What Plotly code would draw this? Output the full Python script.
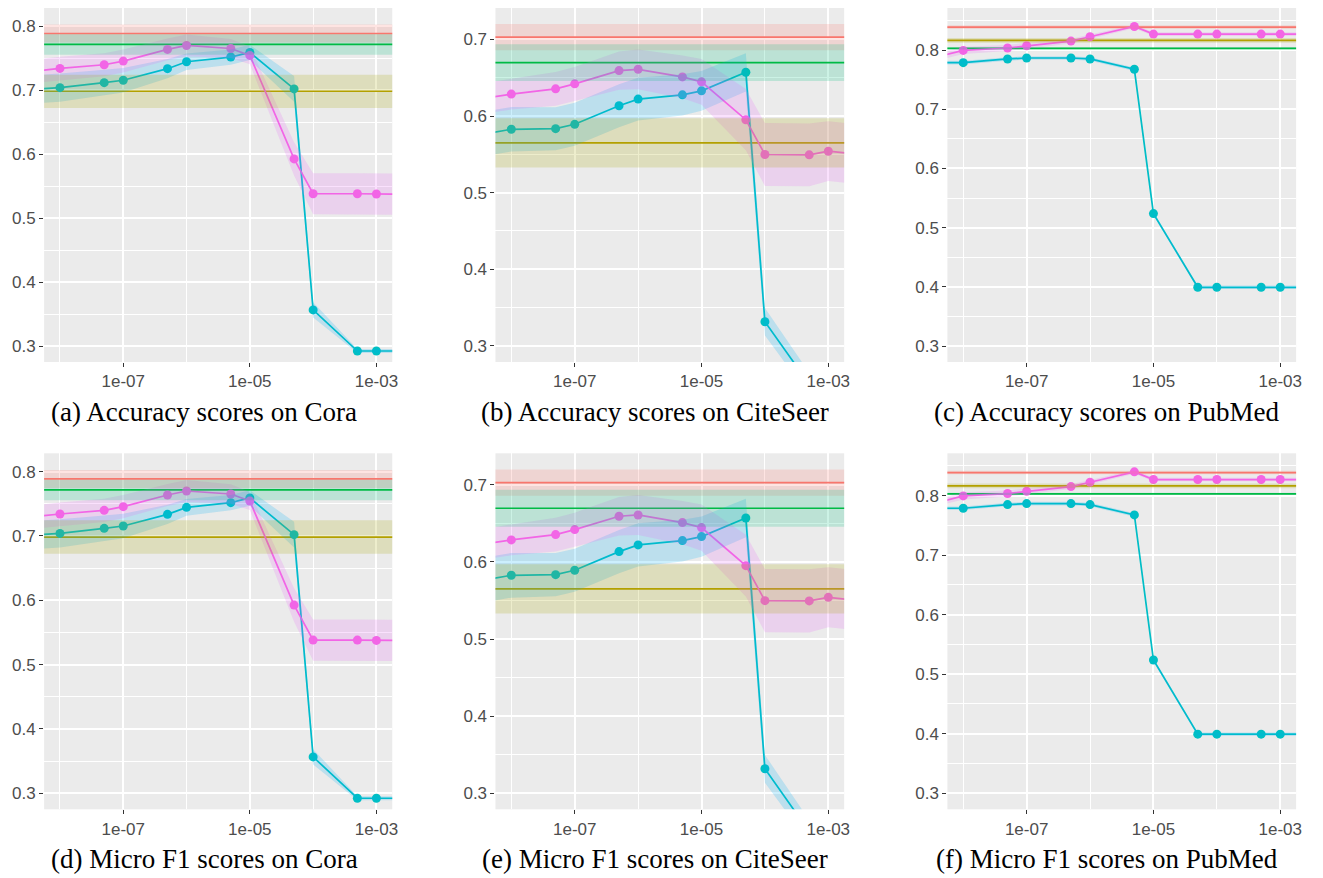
import plotly.graph_objects as go

# ---------------- data ----------------
# x grid (first and last points lie just outside the visible x window)
x_values = [1e-9, 1e-8, 5e-8, 1e-7, 5e-7, 1e-6, 5e-6, 1e-5, 5e-5, 1e-4, 5e-4, 1e-3, 1e-2]

x_tick_vals = [1e-7, 1e-5, 1e-3]
x_tick_text = ["1e-07", "1e-05", "1e-03"]
x_minor_vals = [1e-8, 1e-6, 1e-4]
y_tick_vals = [0.3, 0.4, 0.5, 0.6, 0.7, 0.8]
y_tick_text = ["0.3", "0.4", "0.5", "0.6", "0.7", "0.8"]
y_minor_vals = [0.35, 0.45, 0.55, 0.65, 0.75, 0.85]

# Cora
cora_pink = [0.7237, 0.7341, 0.7398, 0.7455, 0.7637, 0.7699, 0.7652, 0.7544, 0.5925, 0.5381, 0.5381, 0.5376, 0.5370]
cora_pink_sd = [0.018, 0.018, 0.018, 0.018, 0.017, 0.017, 0.015, 0.014, 0.026, 0.032, 0.032, 0.032, 0.032]
cora_teal = [0.698, 0.704, 0.7118, 0.7155, 0.7336, 0.7445, 0.7518, 0.759, 0.702, 0.3565, 0.2922, 0.2922, 0.2922]
cora_teal_sd = [0.022, 0.022, 0.02, 0.019, 0.015, 0.013, 0.012, 0.012, 0.02, 0.012, 0.003, 0.003, 0.003]
cora_base_mean = [0.7886, 0.6983, 0.7715]   # red, gold, green
cora_base_sd = [0.014, 0.026, 0.016]
cora_yrange = [0.275, 0.8285]

# CiteSeer
citeseer_pink = [0.6162, 0.6286, 0.6355, 0.642, 0.6593, 0.661, 0.6511, 0.6446, 0.5952, 0.5498, 0.5494, 0.5541, 0.5457]
citeseer_pink_sd = [0.02, 0.02, 0.022, 0.022, 0.025, 0.026, 0.028, 0.03, 0.04, 0.041, 0.041, 0.039, 0.039]
citeseer_teal = [0.5687, 0.5827, 0.5835, 0.5892, 0.6134, 0.6221, 0.6277, 0.6329, 0.6571, 0.3316, 0.25, 0.24, 0.2]
citeseer_teal_sd = [0.029, 0.029, 0.028, 0.028, 0.028, 0.028, 0.027, 0.026, 0.025, 0.018, 0.015, 0.015, 0.015]
citeseer_base_mean = [0.703, 0.565, 0.6697]
citeseer_base_sd = [0.017, 0.032, 0.024]
citeseer_yrange = [0.279, 0.741]

# PubMed
pubmed_pink = [0.7726, 0.7994, 0.8034, 0.8073, 0.8151, 0.8224, 0.8398, 0.8269, 0.8269, 0.8269, 0.8269, 0.8269, 0.8269]
pubmed_pink_sd = [0.006, 0.006, 0.005, 0.005, 0.004, 0.004, 0.003, 0.003, 0.003, 0.003, 0.003, 0.003, 0.003]
pubmed_teal = [0.7787, 0.7787, 0.7849, 0.7865, 0.7865, 0.7849, 0.7675, 0.5237, 0.3992, 0.3992, 0.3992, 0.3992, 0.3992]
pubmed_teal_sd = [0.003, 0.003, 0.003, 0.003, 0.003, 0.003, 0.003, 0.003, 0.003, 0.003, 0.003, 0.003, 0.003]
pubmed_base_mean = [0.8387, 0.8163, 0.8028]
pubmed_base_sd = [0.003, 0.004, 0.002]
pubmed_yrange = [0.273, 0.871]

captions = [
    "(a) Accuracy scores on Cora",
    "(b) Accuracy scores on CiteSeer",
    "(c) Accuracy scores on PubMed",
    "(d) Micro F1 scores on Cora",
    "(e) Micro F1 scores on CiteSeer",
    "(f) Micro F1 scores on PubMed",
]

# ---------------- styling ----------------
line_pink, line_teal = "#F564E3", "#00BFC4"
fill_pink, fill_teal = "rgba(231,107,243,0.2)", "rgba(0,176,246,0.2)"
base_line_colors = ["#F8766D", "#B79F00", "#00BA38"]
base_fill_colors = ["rgba(248,118,109,0.2)", "rgba(163,165,0,0.2)", "rgba(0,191,125,0.2)"]

OFF = 8  # page body margin
W, H = 1323 - OFF, 878 - OFF
col_px = [(44.3 - OFF, 394.0 - OFF), (497.7 - OFF, 848.0 - OFF), (951.7 - OFF, 1302.0 - OFF)]
row_px = [(6.0 - OFF, 362.0 - OFF), (453.3 - OFF, 809.3 - OFF)]
caption_x_px = [205 - OFF, 658 - OFF, 1112 - OFF]
caption_y_px = [411.7 - OFF, 859.0 - OFF]

datasets = [
    (cora_pink, cora_pink_sd, cora_teal, cora_teal_sd, cora_base_mean, cora_base_sd, cora_yrange),
    (citeseer_pink, citeseer_pink_sd, citeseer_teal, citeseer_teal_sd, citeseer_base_mean, citeseer_base_sd, citeseer_yrange),
    (pubmed_pink, pubmed_pink_sd, pubmed_teal, pubmed_teal_sd, pubmed_base_mean, pubmed_base_sd, pubmed_yrange),
]

fig = go.Figure()
tickfont = dict(family="Liberation Sans, Arial, sans-serif", size=17, color="#4D4D4D")
layout_axes = {}
annotations = []

for r in range(2):
    for c in range(3):
        k = r * 3 + c + 1
        xr = "x" if k == 1 else f"x{k}"
        yr = "y" if k == 1 else f"y{k}"
        pink, pink_sd, teal, teal_sd, bmean, bsd, yrange = datasets[c]

        # baseline horizontal lines
        for m, lc in zip(bmean, base_line_colors):
            fig.add_trace(go.Scatter(x=[x_values[0], x_values[-1]], y=[m, m], mode="lines",
                                     line=dict(color=lc, width=1.7), xaxis=xr, yaxis=yr,
                                     hoverinfo="skip"))
        # series lines + points
        for vals, lc in ((teal, line_teal), (pink, line_pink)):
            fig.add_trace(go.Scatter(x=x_values, y=vals, mode="lines+markers",
                                     line=dict(color=lc, width=1.7),
                                     marker=dict(color=lc, size=9),
                                     xaxis=xr, yaxis=yr))
        # ribbons on top
        for vals, sds, fc in ((teal, teal_sd, fill_teal), (pink, pink_sd, fill_pink)):
            upper = [v + s for v, s in zip(vals, sds)]
            lower = [v - s for v, s in zip(vals, sds)]
            fig.add_trace(go.Scatter(x=x_values + x_values[::-1], y=upper + lower[::-1],
                                     fill="toself", fillcolor=fc, mode="lines",
                                     line=dict(width=0, color="rgba(0,0,0,0)"),
                                     xaxis=xr, yaxis=yr, hoverinfo="skip"))
        for m, s, fc in zip(bmean, bsd, base_fill_colors):
            xs = [x_values[0], x_values[-1], x_values[-1], x_values[0]]
            ys = [m + s, m + s, m - s, m - s]
            fig.add_trace(go.Scatter(x=xs, y=ys, fill="toself", fillcolor=fc, mode="lines",
                                     line=dict(width=0, color="rgba(0,0,0,0)"),
                                     xaxis=xr, yaxis=yr, hoverinfo="skip"))

        x0, x1 = col_px[c]
        y0, y1 = row_px[r]
        xname = "xaxis" if k == 1 else f"xaxis{k}"
        yname = "yaxis" if k == 1 else f"yaxis{k}"
        layout_axes[xname] = dict(
            type="log", range=[-8.25, -2.75], domain=[x0 / W, x1 / W], anchor=yr,
            tickmode="array", tickvals=x_tick_vals, ticktext=x_tick_text,
            ticks="outside", ticklen=4, tickwidth=1.2, tickcolor="#333333",
            showgrid=True, gridcolor="white", gridwidth=2.2,
            minor=dict(tickmode="array", tickvals=x_minor_vals, showgrid=True,
                       gridcolor="white", gridwidth=1.1, ticks=""),
            zeroline=False, showline=False, tickfont=tickfont,
        )
        layout_axes[yname] = dict(
            range=yrange, domain=[max(0, 1 - y1 / H), min(1, 1 - y0 / H)], anchor=xr,
            tickmode="array", tickvals=y_tick_vals, ticktext=y_tick_text,
            ticks="outside", ticklen=4, tickwidth=1.2, tickcolor="#333333",
            showgrid=True, gridcolor="white", gridwidth=2.2,
            minor=dict(tickmode="array", tickvals=y_minor_vals, showgrid=True,
                       gridcolor="white", gridwidth=1.1, ticks=""),
            zeroline=False, showline=False, tickfont=tickfont,
        )
        annotations.append(dict(
            text=captions[k - 1], xref="paper", yref="paper",
            x=caption_x_px[c] / W, y=1 - caption_y_px[r] / H,
            xanchor="center", yanchor="middle", showarrow=False,
            font=dict(family="Liberation Serif, Times New Roman, serif", size=27, color="black"),
        ))

fig.update_layout(
    width=W, height=H, margin=dict(l=0, r=0, t=0, b=0),
    plot_bgcolor="#EBEBEB", paper_bgcolor="white", showlegend=False,
    annotations=annotations, **layout_axes,
)

fig.write_html("out.html")
